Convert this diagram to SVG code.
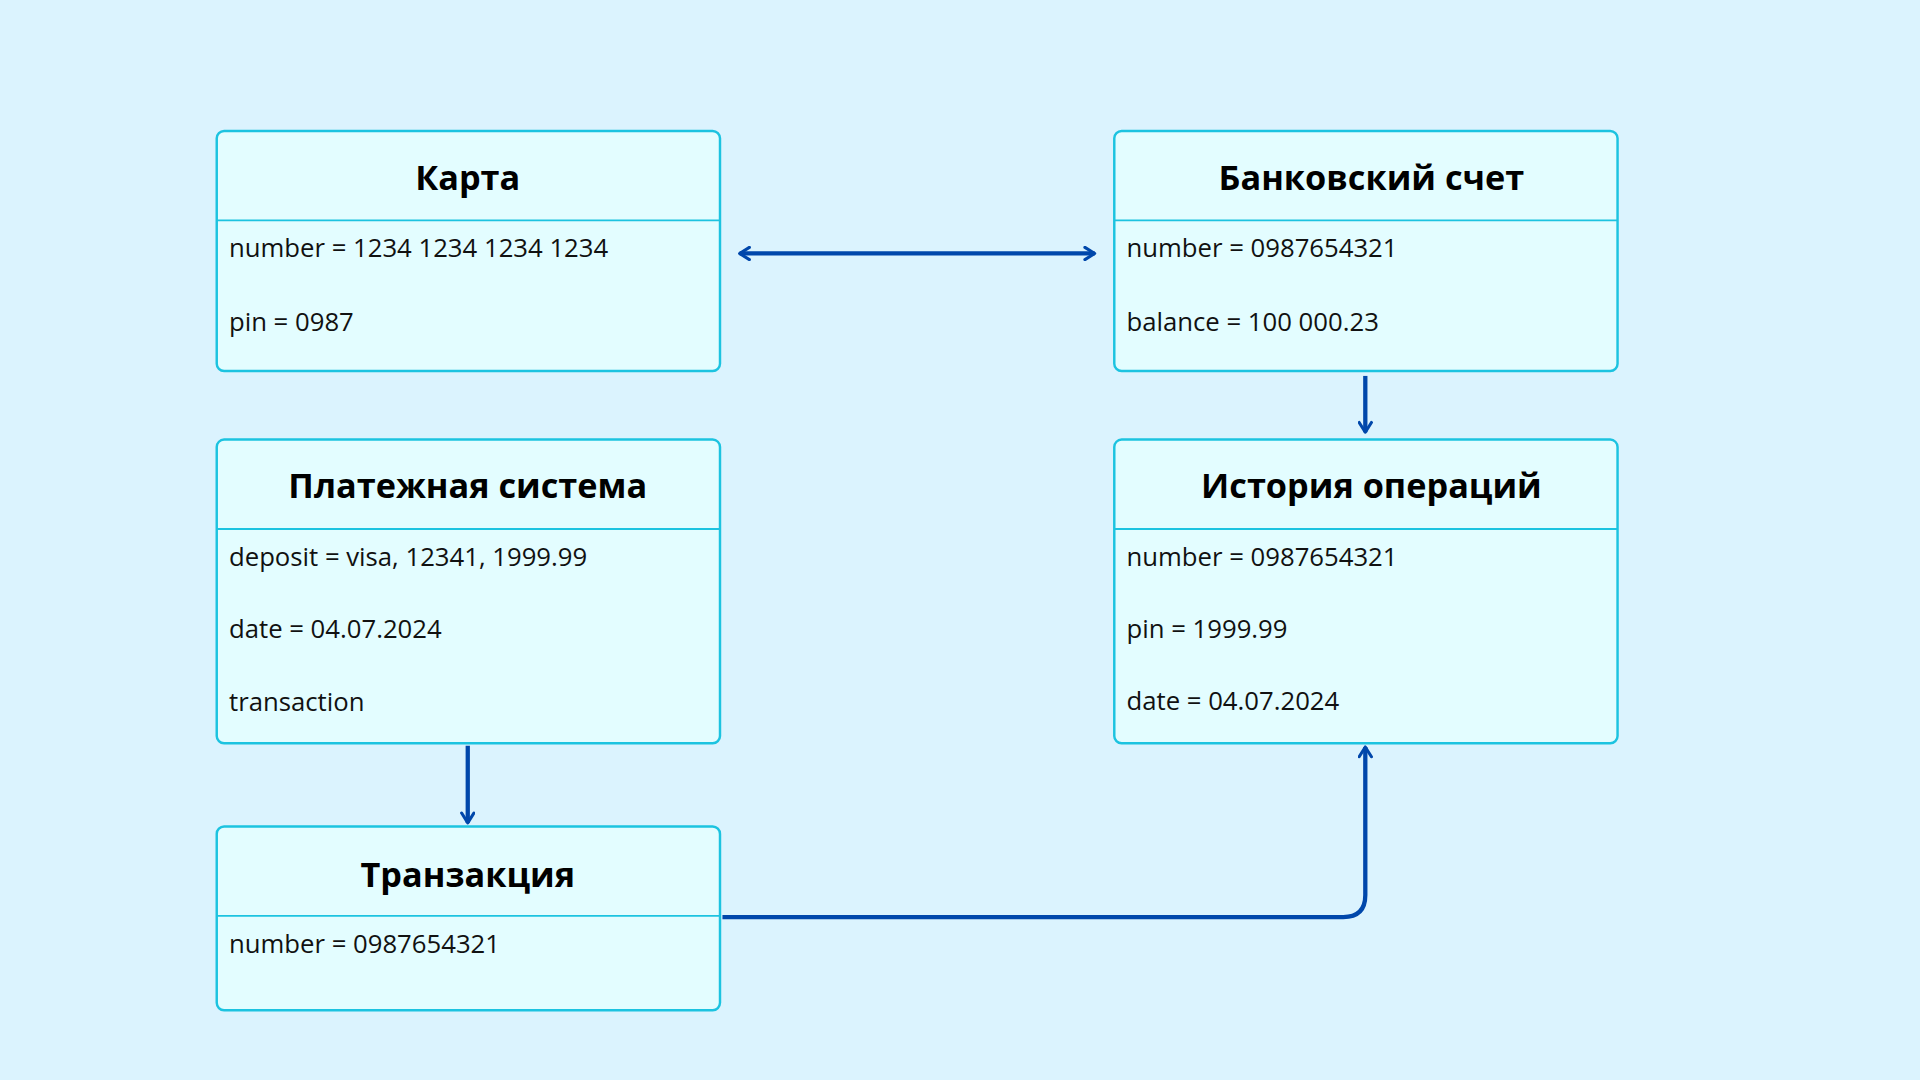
<svg xmlns="http://www.w3.org/2000/svg" width="1920" height="1080" viewBox="0 0 1920 1080">
<style>
.box{fill:#E3FDFF;stroke:#1CC3E0;stroke-width:2}
.div{stroke:#1CC3E0;stroke-width:1.5}
.t{font-family:"Open Sans","Noto Sans",sans-serif;font-weight:700;font-size:28px;fill:#000;text-anchor:middle}
.b{font-family:"Open Sans","Noto Sans",sans-serif;font-size:21px;fill:#111}
.c{fill:none;stroke:#0047AB;stroke-width:3.5}
</style>
<defs>
<marker id="ah" viewBox="0 0 12 12" refX="10" refY="6" markerWidth="12" markerHeight="12" markerUnits="userSpaceOnUse" orient="auto-start-reverse">
<path d="M2,1 L10,6 L2,11" fill="none" stroke="#0047AB" stroke-width="2.5" stroke-linecap="round" stroke-linejoin="round"/>
</marker>
</defs>
<rect width="1920" height="1080" fill="#DBF3FE"/>
<g transform="scale(1.22449)">
<g id="karta">
<rect class="box" x="177" y="107" width="411" height="196" rx="6"/>
<line class="div" x1="177" y1="180" x2="588" y2="180"/>
<text class="t" x="382" y="155">Карта</text>
<text class="b" x="187" y="210">number = 1234 1234 1234 1234</text>
<text class="b" x="187" y="270">pin = 0987</text>
</g>
<g id="bank">
<rect class="box" x="910" y="107" width="411" height="196" rx="6"/>
<line class="div" x1="910" y1="180" x2="1321" y2="180"/>
<text class="t" x="1120" y="155">Банковский счет</text>
<text class="b" x="920" y="210">number = 0987654321</text>
<text class="b" x="920" y="270">balance = 100 000.23</text>
</g>
<g id="payment">
<rect class="box" x="177" y="359" width="411" height="248" rx="6"/>
<line class="div" x1="177" y1="432" x2="588" y2="432"/>
<text class="t" x="382" y="407">Платежная система</text>
<text class="b" x="187" y="462">deposit = visa, 12341, 1999.99</text>
<text class="b" x="187" y="521">date = 04.07.2024</text>
<text class="b" x="187" y="581">transaction</text>
</g>
<g id="history">
<rect class="box" x="910" y="359" width="411" height="248" rx="6"/>
<line class="div" x1="910" y1="432" x2="1321" y2="432"/>
<text class="t" x="1120" y="407">История операций</text>
<text class="b" x="920" y="462">number = 0987654321</text>
<text class="b" x="920" y="521">pin = 1999.99</text>
<text class="b" x="920" y="580">date = 04.07.2024</text>
</g>
<g id="transaction">
<rect class="box" x="177" y="675" width="411" height="150" rx="6"/>
<line class="div" x1="177" y1="748" x2="588" y2="748"/>
<text class="t" x="382" y="724">Транзакция</text>
<text class="b" x="187" y="778">number = 0987654321</text>
</g>
<g id="connectors">
<path class="c" d="M604,207 H894" marker-start="url(#ah)" marker-end="url(#ah)"/>
<path class="c" d="M1115,307 V353" marker-end="url(#ah)"/>
<path class="c" d="M382,609 V672" marker-end="url(#ah)"/>
<path class="c" d="M590,749 H1097 Q1115,749 1115,731 V610" marker-end="url(#ah)"/>
</g>
</g>
</svg>
